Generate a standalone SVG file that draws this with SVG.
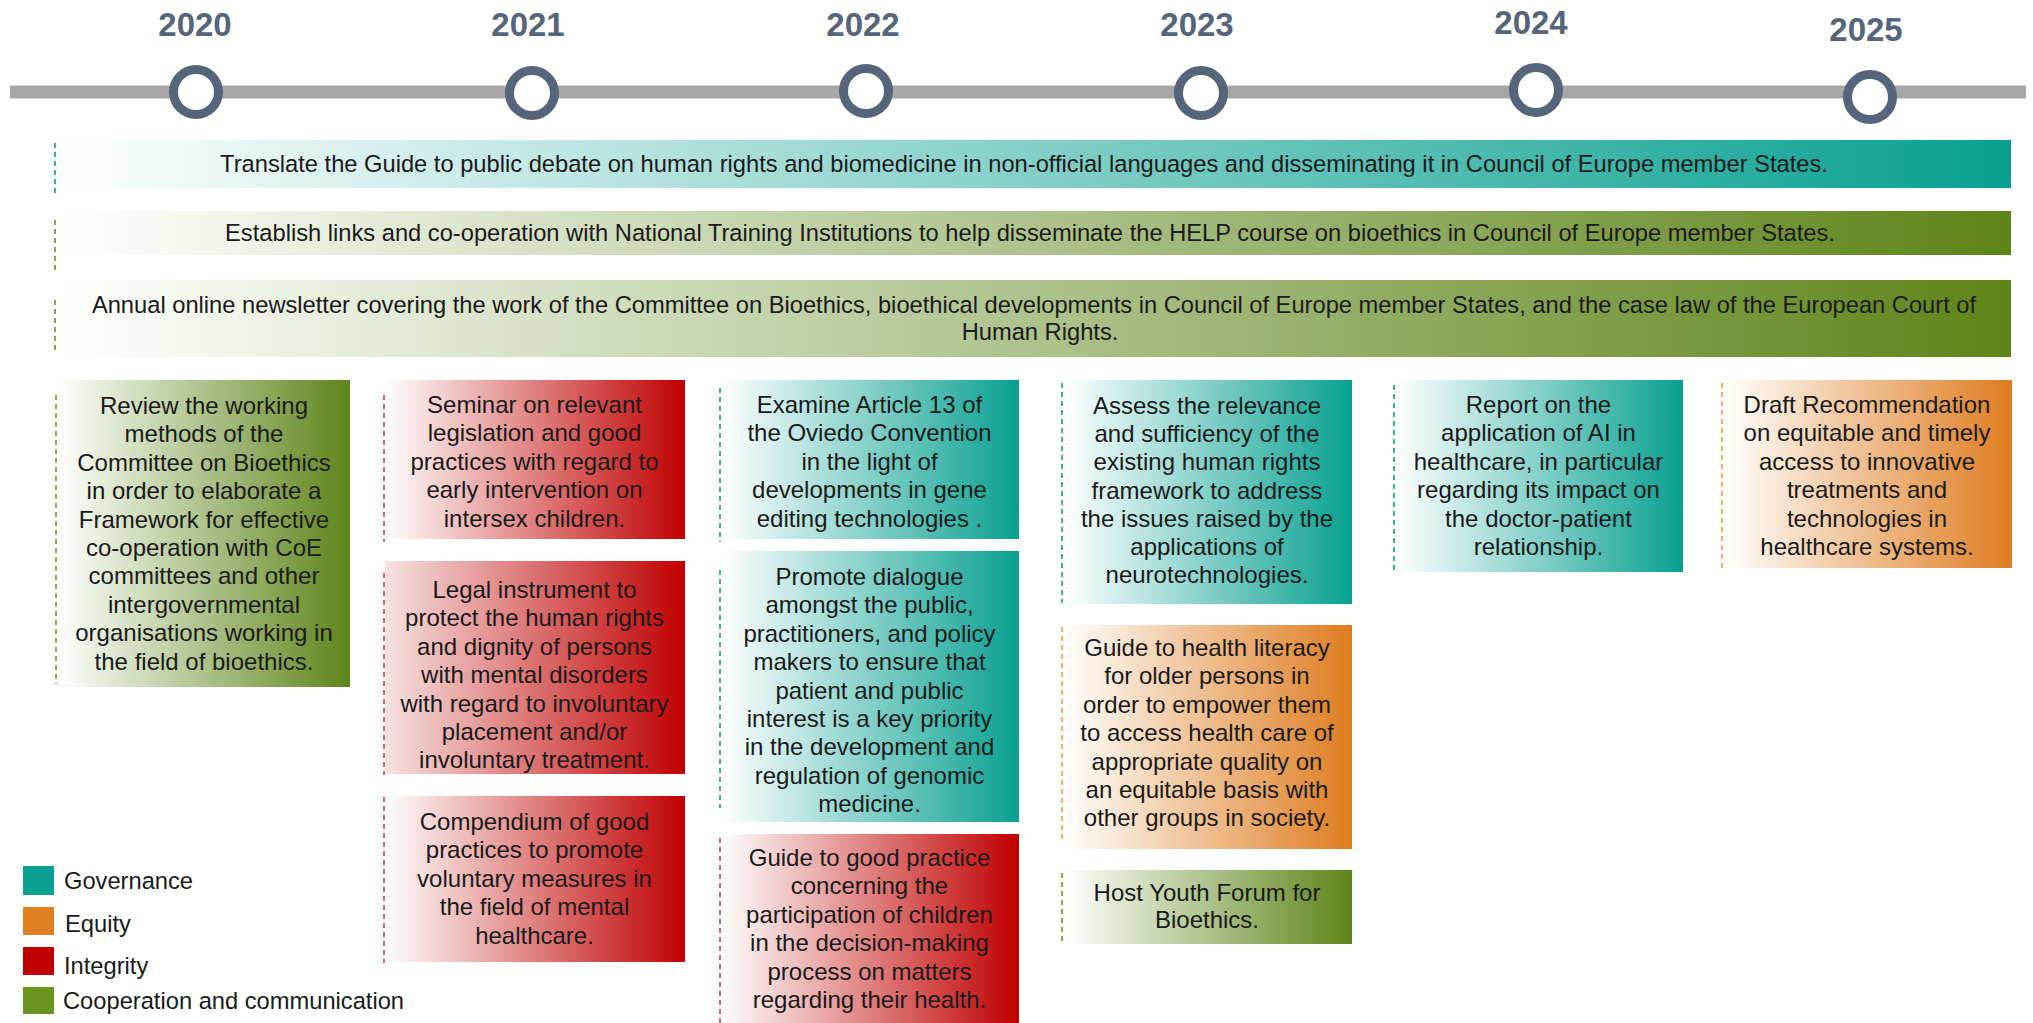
<svg xmlns="http://www.w3.org/2000/svg" width="2033" height="1023" viewBox="0 0 2033 1023">
  <defs>
    <linearGradient id="gTeal" x1="0" y1="0" x2="1" y2="0">
      <stop offset="0" stop-color="#ffffff"/>
      <stop offset="1" stop-color="#08a090"/>
    </linearGradient>
    <linearGradient id="gGreen" x1="0" y1="0" x2="1" y2="0">
      <stop offset="0" stop-color="#ffffff"/>
      <stop offset="1" stop-color="#5e8419"/>
    </linearGradient>
    <linearGradient id="gRed" x1="0" y1="0" x2="1" y2="0">
      <stop offset="0" stop-color="#ffffff"/>
      <stop offset="1" stop-color="#c00000"/>
    </linearGradient>
    <linearGradient id="gRedSoft" x1="0" y1="0" x2="1" y2="0">
      <stop offset="0" stop-color="#f7e2e2"/>
      <stop offset="1" stop-color="#c00000"/>
    </linearGradient>
    <linearGradient id="gOrange" x1="0" y1="0" x2="1" y2="0">
      <stop offset="0" stop-color="#ffffff"/>
      <stop offset="1" stop-color="#de7c1f"/>
    </linearGradient>
  </defs>
  <style>
    .yr { font: bold 33px "Liberation Sans", Arial, sans-serif; fill: #56657a; text-anchor: middle; }
    .t { font: 24px "Liberation Sans", Arial, sans-serif; fill: #1a1a1a; text-anchor: middle; }
    .tb { font: 23.7px "Liberation Sans", Arial, sans-serif; fill: #1a1a1a; text-anchor: middle; }
    .lg { font: 23.7px "Liberation Sans", Arial, sans-serif; fill: #1a1a1a; }
    .ring { fill: #ffffff; stroke: #56657a; stroke-width: 9; }
    .dash { fill: none; stroke-width: 1.6; stroke-dasharray: 5 4; }
    .dTeal { stroke: #08a090; }
    .dGreen { stroke: #6b931f; }
    .dRed { stroke: #d04040; }
    .dOrange { stroke: #f0a030; }
  </style>

  <rect width="2033" height="1023" fill="#ffffff"/>

  <!-- timeline axis with year markers -->
  <g id="timeline">
    <rect x="10" y="85.5" width="2016" height="13" fill="#a6a6a6"/>
    <circle class="ring" cx="196" cy="92" r="22.5"/>
    <circle class="ring" cx="532" cy="93" r="22.5"/>
    <circle class="ring" cx="866" cy="91" r="22.5"/>
    <circle class="ring" cx="1201" cy="93" r="22.5"/>
    <circle class="ring" cx="1536" cy="90" r="22.5"/>
    <circle class="ring" cx="1870" cy="97" r="22.5"/>
    <text class="yr" x="195" y="36">2020</text>
    <text class="yr" x="528" y="36">2021</text>
    <text class="yr" x="863" y="36">2022</text>
    <text class="yr" x="1197" y="36">2023</text>
    <text class="yr" x="1531" y="34">2024</text>
    <text class="yr" x="1866" y="41">2025</text>
  </g>

  <!-- markers tying each activity to its start on the axis -->
  <g id="connectors">
    <line class="dash dTeal" x1="55" y1="143" x2="55" y2="195"/>
    <line class="dash dGreen" x1="55" y1="220" x2="55" y2="272"/>
    <line class="dash dGreen" x1="55" y1="300" x2="55" y2="352"/>
    <line class="dash dGreen" x1="56" y1="395" x2="56" y2="684"/>
    <line class="dash dRed" x1="384" y1="395" x2="384" y2="542"/>
    <line class="dash dRed" x1="384" y1="573" x2="384" y2="775"/>
    <line class="dash dRed" x1="384" y1="797" x2="384" y2="963"/>
    <line class="dash dTeal" x1="720" y1="388" x2="720" y2="542"/>
    <line class="dash dTeal" x1="720" y1="570" x2="720" y2="808"/>
    <line class="dash dRed" x1="720" y1="838" x2="720" y2="1023"/>
    <line class="dash dTeal" x1="1062" y1="383" x2="1062" y2="603"/>
    <line class="dash dOrange" x1="1062" y1="627" x2="1062" y2="843"/>
    <line class="dash dGreen" x1="1062" y1="873" x2="1062" y2="943"/>
    <line class="dash dTeal" x1="1394" y1="385" x2="1394" y2="572"/>
    <line class="dash dOrange" x1="1722" y1="383" x2="1722" y2="568"/>
  </g>

  <!-- multi-year activities -->
  <g id="banner-translate">
    <rect x="56" y="140" width="1955" height="48" fill="url(#gTeal)"/>
    <text class="tb" x="1024" y="172">Translate the Guide to public debate on human rights and biomedicine in non-official languages and disseminating it in Council of Europe member States.</text>
  </g>
  <g id="banner-help">
    <rect x="56" y="211" width="1955" height="44" fill="url(#gGreen)"/>
    <text class="tb" x="1030" y="241">Establish links and co-operation with National Training Institutions to help disseminate the HELP course on bioethics in Council of Europe member States.</text>
  </g>
  <g id="banner-newsletter">
    <rect x="56" y="280" width="1955" height="77" fill="url(#gGreen)"/>
    <text class="tb" x="1034" y="313">Annual online newsletter covering the work of the Committee on Bioethics, bioethical developments in Council of Europe member States, and the case law of the European Court of<tspan x="1040" dy="27">Human Rights.</tspan></text>
  </g>

  <!-- 2020 -->
  <g id="review-methods">
    <rect x="57" y="380" width="293" height="307" fill="url(#gGreen)"/>
    <text class="t" x="204" y="414">Review the working<tspan x="204" dy="28.4">methods of the</tspan><tspan x="204" dy="28.4">Committee on Bioethics</tspan><tspan x="204" dy="28.4">in order to elaborate a</tspan><tspan x="204" dy="28.4">Framework for effective</tspan><tspan x="204" dy="28.4">co-operation with CoE</tspan><tspan x="204" dy="28.4">committees and other</tspan><tspan x="204" dy="28.4">intergovernmental</tspan><tspan x="204" dy="28.4">organisations working in</tspan><tspan x="204" dy="28.4">the field of bioethics.</tspan></text>
  </g>

  <!-- 2021 -->
  <g id="seminar-intersex">
    <rect x="385" y="380" width="300" height="159" fill="url(#gRed)"/>
    <text class="t" x="534.5" y="413">Seminar on relevant<tspan x="534.5" dy="28.4">legislation and good</tspan><tspan x="534.5" dy="28.4">practices with regard to</tspan><tspan x="534.5" dy="28.4">early intervention on</tspan><tspan x="534.5" dy="28.4">intersex children.</tspan></text>
  </g>
  <g id="legal-instrument">
    <rect x="385" y="561" width="300" height="213" fill="url(#gRedSoft)"/>
    <text class="t" x="534.5" y="598">Legal instrument to<tspan x="534.5" dy="28.4">protect the human rights</tspan><tspan x="534.5" dy="28.4">and dignity of persons</tspan><tspan x="534.5" dy="28.4">with mental disorders</tspan><tspan x="534.5" dy="28.4">with regard to involuntary</tspan><tspan x="534.5" dy="28.4">placement and/or</tspan><tspan x="534.5" dy="28.4">involuntary treatment.</tspan></text>
  </g>
  <g id="compendium">
    <rect x="385" y="796" width="300" height="166" fill="url(#gRed)"/>
    <text class="t" x="534.5" y="830">Compendium of good<tspan x="534.5" dy="28.4">practices to promote</tspan><tspan x="534.5" dy="28.4">voluntary measures in</tspan><tspan x="534.5" dy="28.4">the field of mental</tspan><tspan x="534.5" dy="28.4">healthcare.</tspan></text>
  </g>

  <!-- 2022 -->
  <g id="examine-article13">
    <rect x="721" y="380" width="298" height="159" fill="url(#gTeal)"/>
    <text class="t" x="869.5" y="413">Examine Article 13 of<tspan x="869.5" dy="28.4">the Oviedo Convention</tspan><tspan x="869.5" dy="28.4">in the light of</tspan><tspan x="869.5" dy="28.4">developments in gene</tspan><tspan x="869.5" dy="28.4">editing technologies .</tspan></text>
  </g>
  <g id="promote-dialogue">
    <rect x="721" y="551" width="298" height="271" fill="url(#gTeal)"/>
    <text class="t" x="869.5" y="585">Promote dialogue<tspan x="869.5" dy="28.4">amongst the public,</tspan><tspan x="869.5" dy="28.4">practitioners, and policy</tspan><tspan x="869.5" dy="28.4">makers to ensure that</tspan><tspan x="869.5" dy="28.4">patient and public</tspan><tspan x="869.5" dy="28.4">interest is a key priority</tspan><tspan x="869.5" dy="28.4">in the development and</tspan><tspan x="869.5" dy="28.4">regulation of genomic</tspan><tspan x="869.5" dy="28.4">medicine.</tspan></text>
  </g>
  <g id="guide-children">
    <rect x="721" y="834" width="298" height="190" fill="url(#gRed)"/>
    <text class="t" x="869.5" y="866">Guide to good practice<tspan x="869.5" dy="28.4">concerning the</tspan><tspan x="869.5" dy="28.4">participation of children</tspan><tspan x="869.5" dy="28.4">in the decision-making</tspan><tspan x="869.5" dy="28.4">process on matters</tspan><tspan x="869.5" dy="28.4">regarding their health.</tspan></text>
  </g>

  <!-- 2023 -->
  <g id="assess-neurotech">
    <rect x="1063" y="380" width="289" height="224" fill="url(#gTeal)"/>
    <text class="t" x="1207" y="414">Assess the relevance<tspan x="1207" dy="28.2">and sufficiency of the</tspan><tspan x="1207" dy="28.2">existing human rights</tspan><tspan x="1207" dy="28.2">framework to address</tspan><tspan x="1207" dy="28.2">the issues raised by the</tspan><tspan x="1207" dy="28.2">applications of</tspan><tspan x="1207" dy="28.2">neurotechnologies.</tspan></text>
  </g>
  <g id="guide-health-literacy">
    <rect x="1063" y="625" width="289" height="224" fill="url(#gOrange)"/>
    <text class="t" x="1207" y="656">Guide to health literacy<tspan x="1207" dy="28.4">for older persons in</tspan><tspan x="1207" dy="28.4">order to empower them</tspan><tspan x="1207" dy="28.4">to access health care of</tspan><tspan x="1207" dy="28.4">appropriate quality on</tspan><tspan x="1207" dy="28.4">an equitable basis with</tspan><tspan x="1207" dy="28.4">other groups in society.</tspan></text>
  </g>
  <g id="youth-forum">
    <rect x="1063" y="870" width="289" height="74" fill="url(#gGreen)"/>
    <text class="t" x="1207" y="901">Host Youth Forum for<tspan x="1207" dy="27">Bioethics.</tspan></text>
  </g>

  <!-- 2024 -->
  <g id="report-ai">
    <rect x="1395" y="380" width="288" height="192" fill="url(#gTeal)"/>
    <text class="t" x="1538.5" y="413">Report on the<tspan x="1538.5" dy="28.4">application of AI in</tspan><tspan x="1538.5" dy="28.4">healthcare, in particular</tspan><tspan x="1538.5" dy="28.4">regarding its impact on</tspan><tspan x="1538.5" dy="28.4">the doctor-patient</tspan><tspan x="1538.5" dy="28.4">relationship.</tspan></text>
  </g>

  <!-- 2025 -->
  <g id="draft-recommendation">
    <rect x="1723" y="380" width="289" height="188" fill="url(#gOrange)"/>
    <text class="t" x="1867" y="413">Draft Recommendation<tspan x="1867" dy="28.4">on equitable and timely</tspan><tspan x="1867" dy="28.4">access to innovative</tspan><tspan x="1867" dy="28.4">treatments and</tspan><tspan x="1867" dy="28.4">technologies in</tspan><tspan x="1867" dy="28.4">healthcare systems.</tspan></text>
  </g>

  <!-- key -->
  <g id="legend">
    <rect x="23" y="866" width="31" height="29" fill="#0aa193"/>
    <rect x="23" y="907" width="31" height="28" fill="#e08025"/>
    <rect x="23" y="947" width="31" height="28" fill="#c00000"/>
    <rect x="23" y="987" width="31" height="27" fill="#6b931f"/>
    <text class="lg" x="64" y="889">Governance</text>
    <text class="lg" x="65" y="932">Equity</text>
    <text class="lg" x="64" y="974">Integrity</text>
    <text class="lg" x="63" y="1009">Cooperation and communication</text>
  </g>
</svg>
